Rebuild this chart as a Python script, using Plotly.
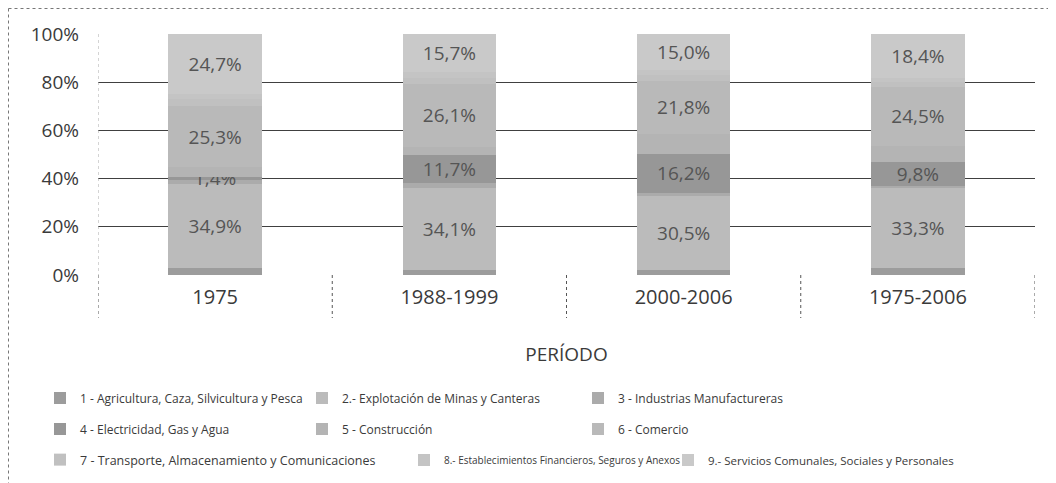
import plotly.graph_objects as go

periods = ["1975", "1988-1999", "2000-2006", "1975-2006"]

sectors = [
    "1 - Agricultura, Caza, Silvicultura y Pesca",
    "2.- Explotación de Minas y Canteras",
    "3 - Industrias Manufactureras",
    "4 - Electricidad, Gas y Agua",
    "5 - Construcción",
    "6 - Comercio",
    "7 - Transporte, Almacenamiento y Comunicaciones",
    "8.- Establecimientos Financieros, Seguros y Anexos",
    "9.- Servicios Comunales, Sociales y Personales",
]

# share (%) of each sector per period, stacked bottom -> top
s1 = [3.0, 2.0, 2.2, 2.7]
s2 = [34.9, 34.1, 30.5, 33.3]
s3 = [1.5, 2.0, 1.5, 1.0]
s4 = [1.4, 11.7, 16.2, 9.8]
s5 = [4.0, 3.5, 8.3, 6.8]
s6 = [25.3, 26.1, 21.8, 24.5]
s7 = [3.0, 2.5, 2.5, 2.0]
s8 = [2.2, 2.4, 2.0, 1.5]
s9 = [24.7, 15.7, 15.0, 18.4]

series = [s1, s2, s3, s4, s5, s6, s7, s8, s9]
labelled = [False, True, False, True, False, True, False, False, True]
colors = ["#9c9c9c", "#bbbbbb", "#ababab", "#979797", "#b4b4b4",
          "#b9b9b9", "#c0c0c0", "#c4c4c4", "#c9c9c9"]

# legend layout (text start x in page px, row centre y in page px, font size)
leg_pos = [(80, 398, 12), (342, 398, 12), (618, 398, 12),
           (80, 429, 12), (342, 429, 12), (618, 429, 12),
           (80, 460, 12.5), (444, 460, 10), (708, 460, 11.5)]

OFF = 8  # page body margin
W, H = 1048, 475
L, R, T, B = 90, 21, 26, 208
PW, PH = W - L - R, H - T - B


def px_x(px):
    return (px - OFF - L) / PW


def px_y(py):
    return (H - B - (py - OFF)) / PH


def fmt(v):
    return f"{v:.1f}".replace(".", ",") + "%"


fig = go.Figure()
for i, (name, vals) in enumerate(zip(sectors, series)):
    leg = "legend" if i == 0 else f"legend{i+1}"
    fig.add_trace(go.Bar(
        x=periods, y=vals, name=name,
        marker=dict(color=colors[i], line=dict(width=0)),
        text=[fmt(v) for v in vals] if labelled[i] else None,
        textposition="inside" if labelled[i] else "none",
        insidetextanchor="middle",
        textangle=0,
        constraintext="none",
        textfont=dict(family="Open Sans", size=19, color="#555555"),
        legend=leg,
        hoverinfo="skip",
    ))

layout_legends = {}
for i, (tx, ty, fs) in enumerate(leg_pos):
    key = "legend" if i == 0 else f"legend{i+1}"
    layout_legends[key] = dict(
        x=px_x(tx - 40), y=px_y(ty), xanchor="left", yanchor="middle",
        orientation="h", bgcolor="rgba(0,0,0,0)",
        font=dict(family="Open Sans", size=fs, color="#3a3a3a"),
        itemwidth=30,
    )

shapes = []
# outer chart border (top and left edges visible)
shapes.append(dict(type="line", xref="paper", yref="paper",
                   x0=px_x(8.5), x1=px_x(1056), y0=px_y(8.5), y1=px_y(8.5),
                   line=dict(color="#777777", width=1, dash="dot")))
shapes.append(dict(type="line", xref="paper", yref="paper",
                   x0=px_x(8.5), x1=px_x(8.5), y0=px_y(8.5), y1=px_y(483),
                   line=dict(color="#777777", width=1, dash="dot")))
# category separators
for b in [-0.5, 0.5, 1.5, 2.5, 3.5]:
    shapes.append(dict(type="line", xref="x", yref="paper",
                       x0=b, x1=b, y0=px_y(275), y1=px_y(318),
                       line=dict(color="#555555", width=1, dash="dot")))
shapes.append(dict(type="line", xref="x", yref="paper",
                   x0=-0.5, x1=-0.5, y0=1, y1=px_y(275),
                   line=dict(color="#aaaaaa", width=1, dash="dot")))

fig.update_layout(
    barmode="stack",
    bargap=0.6,
    width=W, height=H,
    margin=dict(l=L, r=R, t=T, b=B, autoexpand=False),
    paper_bgcolor="white", plot_bgcolor="white",
    font=dict(family="Open Sans", color="#3a3a3a"),
    shapes=shapes,
    showlegend=True,
    **layout_legends,
)
fig.update_xaxes(
    type="category", range=[-0.5, 3.5], showgrid=False, showline=False,
    ticks="", tickfont=dict(size=20, color="#3a3a3a"), ticklabelstandoff=8,
    title=dict(text="PERÍODO", font=dict(size=19, color="#3a3a3a"), standoff=38),
)
fig.update_yaxes(
    range=[0, 100], dtick=20, ticksuffix="%", showgrid=True,
    gridcolor="#404040", gridwidth=1, zeroline=False, showline=False,
    ticks="", tickfont=dict(size=19, color="#3a3a3a"), ticklabelstandoff=18,
)

fig.write_html("out.html")
